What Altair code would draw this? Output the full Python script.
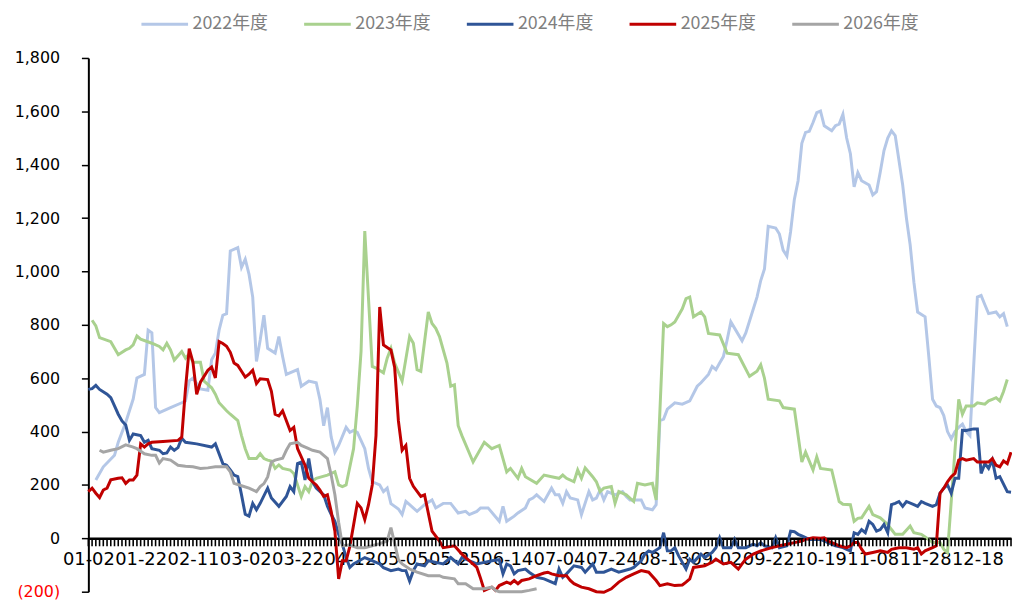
import altair as alt
import pandas as pd

# ---- category axis: trading-day index, labelled every 14 days ----
N_DAYS = 248
LABEL_STEP = 14
tick_labels = ["01-02", "01-22", "02-11", "03-02", "03-22", "04-12", "05-05", "05-25",
               "06-14", "07-04", "07-24", "08-13", "09-02", "09-22", "10-19", "11-08",
               "11-28", "12-18"]

series_names = ["2022年度", "2023年度", "2024年度", "2025年度", "2026年度"]
series_colors = ["#B4C7E7", "#A9D18E", "#2F5597", "#C00000", "#A5A5A5"]

# (day index, value)
y2022 = [(2, 219), (4, 268), (7, 311), (8, 360), (10, 434), (12, 522), (13, 601), (15, 614), (16, 780),
         (17, 770), (18, 490), (19, 471), (22, 490), (25, 508), (26, 515), (27, 590), (28, 600), (30, 560),
         (32, 555), (33, 669), (34, 694), (35, 780), (36, 836), (37, 842), (38, 1077), (40, 1089), (41, 1015),
         (42, 1046), (43, 990), (44, 904), (45, 663), (46, 743), (47, 836), (48, 712), (50, 694), (51, 756),
         (52, 681), (53, 614), (56, 632), (57, 570), (59, 589), (61, 583), (62, 520), (63, 422), (64, 490),
         (65, 380), (66, 323), (67, 348), (69, 416), (70, 397), (71, 404), (72, 397), (74, 336), (75, 262),
         (76, 212), (78, 200), (79, 175), (80, 188), (81, 130), (83, 110), (84, 89), (85, 138), (86, 126),
         (88, 101), (90, 126), (92, 144), (93, 114), (95, 131), (97, 131), (99, 95), (101, 101), (102, 89),
         (104, 101), (105, 114), (107, 114), (110, 64), (111, 120), (112, 64), (114, 83), (115, 95), (117, 114),
         (118, 144), (119, 151), (120, 163), (122, 138), (123, 163), (124, 188), (125, 163), (126, 163),
         (127, 131), (128, 175), (129, 151), (131, 144), (132, 89), (134, 175), (135, 144), (136, 151),
         (137, 181), (138, 144), (139, 175), (141, 163), (143, 175), (144, 157), (145, 144), (148, 144),
         (149, 114), (151, 107), (152, 126), (153, 441), (154, 447), (155, 484), (157, 508), (159, 503),
         (161, 515), (163, 570), (164, 583), (166, 614), (167, 644), (168, 632), (169, 657), (170, 681),
         (171, 743), (172, 811), (175, 740), (176, 770), (179, 904), (180, 966), (181, 1009), (182, 1169),
         (184, 1163), (185, 1140), (186, 1080), (187, 1058), (188, 1150), (189, 1270), (190, 1340),
         (191, 1480), (192, 1521), (193, 1525), (194, 1558), (195, 1595), (196, 1601), (197, 1546),
         (199, 1527), (200, 1546), (201, 1552), (202, 1589), (203, 1500), (204, 1441), (205, 1317),
         (206, 1370), (207, 1340), (209, 1324), (210, 1287), (211, 1299), (212, 1373), (213, 1453),
         (214, 1500), (215, 1527), (216, 1509), (218, 1324), (219, 1200), (220, 1100), (221, 960),
         (222, 848), (224, 830), (225, 680), (226, 521), (227, 496), (228, 490), (229, 460), (230, 400),
         (231, 373), (232, 400), (233, 416), (234, 428), (235, 400), (236, 385), (238, 904), (239, 910),
         (240, 875), (241, 842), (243, 848), (244, 830), (245, 842), (246, 793)]

y2023 = [(1, 817), (2, 796), (3, 752), (6, 737), (8, 688), (10, 706), (11, 712), (12, 725), (13, 758),
         (14, 746), (17, 731), (19, 719), (20, 706), (21, 731), (22, 706), (23, 668), (25, 700), (26, 675),
         (27, 691), (28, 660), (30, 660), (31, 589), (33, 564), (34, 540), (35, 508), (37, 478), (38, 465),
         (40, 441), (41, 385), (42, 336), (43, 299), (45, 299), (46, 317), (47, 299), (48, 293), (49, 290),
         (50, 262), (51, 275), (52, 262), (54, 256), (55, 243), (56, 200), (57, 157), (58, 194), (59, 175),
         (60, 215), (61, 225), (64, 237), (66, 249), (67, 200), (68, 194), (69, 200), (71, 336), (72, 496),
         (73, 700), (74, 1151), (76, 644), (77, 638), (79, 620), (80, 675), (81, 712), (82, 657), (84, 589),
         (86, 756), (87, 731), (88, 632), (89, 626), (91, 848), (92, 805), (93, 787), (94, 756), (96, 657),
         (97, 570), (98, 575), (99, 422), (100, 385), (103, 286), (106, 360), (108, 336), (110, 348),
         (112, 249), (113, 262), (115, 225), (116, 262), (117, 231), (120, 206), (122, 237), (124, 231),
         (126, 225), (127, 237), (128, 225), (130, 212), (131, 256), (132, 225), (133, 264), (135, 231),
         (136, 212), (137, 175), (138, 188), (140, 194), (141, 131), (142, 175), (144, 163), (146, 138),
         (147, 206), (149, 200), (151, 206), (152, 144), (154, 805), (155, 793), (156, 800), (157, 811),
         (159, 860), (160, 898), (161, 904), (162, 830), (164, 848), (165, 830), (166, 768), (169, 762),
         (171, 694), (174, 688), (177, 607), (179, 626), (180, 650), (181, 600), (182, 521), (185, 515),
         (186, 490), (189, 484), (191, 286), (192, 323), (194, 256), (195, 305), (196, 262), (199, 256),
         (201, 138), (202, 128), (204, 126), (205, 64), (206, 75), (207, 77), (209, 120), (210, 89),
         (212, 77), (214, 52), (215, 33), (216, 15), (218, 15), (220, 46), (221, 21), (223, 15), (225, -4),
         (226, -16), (228, -16), (229, -41), (230, -53), (233, 521), (234, 465), (235, 496), (237, 496),
         (238, 508), (240, 503), (241, 515), (242, 521), (243, 527), (244, 515), (245, 550), (246, 595)]

y2024 = [(0, 558), (1, 561), (2, 573), (3, 558), (5, 540), (6, 527), (7, 496), (8, 465), (9, 440),
         (10, 425), (11, 367), (12, 391), (14, 385), (15, 360), (16, 367), (17, 336), (19, 330), (20, 317),
         (21, 320), (22, 342), (23, 330), (24, 340), (25, 375), (26, 360), (29, 354), (33, 342), (34, 354),
         (36, 280), (37, 274), (38, 256), (39, 237), (40, 231), (41, 163), (42, 90), (43, 83), (44, 131),
         (45, 107), (46, 131), (48, 188), (49, 151), (51, 120), (53, 157), (54, 194), (55, 175), (56, 280),
         (57, 286), (58, 219), (59, 299), (60, 212), (61, 188), (63, 163), (64, 120), (65, 90), (66, 64),
         (67, 15), (68, -22), (69, -72), (70, -109), (71, -96), (74, -72), (75, -78), (78, -96), (79, -110),
         (81, -121), (83, -115), (84, -121), (85, -121), (86, -160), (87, -121), (88, -96), (90, -103),
         (91, -84), (93, -90), (95, -96), (97, -72), (99, -96), (100, -72), (102, -84), (104, -96),
         (106, -90), (108, -84), (110, -80), (111, -133), (112, -96), (113, -103), (114, -133), (115, -121),
         (117, -115), (118, -127), (120, -146), (122, -152), (125, -170), (126, -115), (127, -146),
         (128, -133), (130, -103), (132, -109), (133, -127), (135, -96), (136, -127), (138, -127),
         (140, -115), (142, -127), (145, -115), (146, -109), (148, -84), (149, -59), (150, -47), (151, -53),
         (153, -35), (154, 21), (155, -47), (156, -47), (157, -35), (158, -65), (160, -115), (161, -78),
         (162, -90), (164, -59), (165, -72), (167, -53), (168, -35), (169, 2), (170, -35), (172, -35),
         (173, -4), (174, -35), (176, -35), (178, -22), (179, -28), (180, -16), (181, -28), (183, -35),
         (184, 2), (185, -35), (187, -28), (188, 27), (189, 25), (190, 15), (191, 9), (193, -4), (196, -4),
         (198, -16), (200, -28), (202, -35), (203, -41), (204, -47), (205, 21), (206, 15), (207, 33),
         (208, 21), (209, 64), (210, 52), (211, 27), (212, 33), (213, 52), (214, 21), (215, 126), (216, 131),
         (217, 138), (218, 120), (219, 138), (221, 126), (222, 120), (223, 138), (224, 131), (226, 120),
         (227, 126), (228, 169), (229, 188), (230, 200), (231, 169), (232, 225), (233, 225), (234, 405),
         (235, 404), (237, 410), (238, 410), (239, 243), (240, 280), (241, 262), (242, 293), (243, 225),
         (244, 231), (246, 175), (247, 173)]

y2025 = [(0, 175), (1, 188), (2, 169), (3, 153), (4, 181), (5, 188), (6, 219), (8, 225), (9, 227),
         (10, 206), (11, 219), (12, 219), (13, 237), (14, 354), (15, 342), (16, 354), (17, 360), (20, 363),
         (24, 367), (25, 379), (26, 560), (27, 711), (28, 660), (29, 540), (30, 585), (32, 630), (33, 642),
         (34, 601), (35, 737), (36, 730), (37, 720), (38, 697), (39, 657), (40, 648), (41, 626), (42, 604),
         (43, 615), (44, 630), (45, 580), (46, 598), (48, 595), (49, 551), (50, 465), (51, 459), (52, 478),
         (54, 404), (55, 416), (56, 336), (57, 305), (58, 274), (59, 225), (60, 212), (61, 200), (62, 181),
         (63, 157), (64, 163), (65, 101), (66, 27), (67, -152), (68, -84), (69, -84), (70, -30), (71, 50),
         (72, 131), (73, 114), (74, 70), (75, 126), (76, 200), (77, 385), (78, 867), (79, 725), (80, 715),
         (81, 706), (82, 640), (83, 440), (84, 330), (85, 348), (86, 225), (87, 195), (89, 157), (90, 163),
         (92, 27), (94, -10), (95, -35), (98, -28), (100, -59), (102, -84), (104, -109), (105, -150),
         (106, -195), (108, -183), (109, -195), (110, -177), (112, -164), (113, -170), (114, -158),
         (115, -170), (116, -158), (118, -152), (120, -140), (122, -130), (123, -127), (124, -133),
         (126, -140), (128, -140), (129, -158), (130, -170), (132, -183), (134, -189), (136, -200),
         (138, -202), (140, -189), (142, -164), (144, -146), (146, -133), (148, -121), (150, -127),
         (152, -158), (153, -177), (155, -170), (157, -177), (159, -175), (160, -164), (161, -152),
         (162, -109), (165, -103), (167, -90), (168, -78), (170, -96), (172, -90), (174, -115), (175, -96),
         (176, -78), (178, -59), (180, -47), (183, -35), (185, -28), (187, -22), (189, -16), (191, -10),
         (192, -4), (194, 2), (196, 0), (197, 2), (198, -10), (200, -22), (201, -28), (203, -35), (204, -28),
         (205, -16), (206, -16), (207, -41), (208, -59), (210, -53), (212, -47), (214, -53), (215, -41),
         (217, -35), (219, -35), (221, -41), (222, -35), (223, -59), (224, -47), (226, -35), (227, -28),
         (228, 169), (229, 188), (230, 212), (231, 231), (232, 243), (233, 293), (234, 299), (235, 293),
         (237, 299), (238, 286), (239, 286), (241, 286), (242, 299), (243, 274), (244, 268), (245, 290),
         (246, 280), (247, 323)]

y2026 = [(3, 330), (4, 323), (6, 330), (8, 336), (10, 350), (12, 342), (13, 336), (15, 317), (17, 311),
         (18, 311), (19, 282), (20, 299), (22, 293), (24, 274), (26, 270), (28, 268), (30, 262), (32, 264),
         (34, 268), (37, 268), (38, 249), (39, 206), (41, 197), (43, 188), (45, 175), (46, 194), (47, 205),
         (48, 230), (49, 286), (50, 293), (52, 300), (53, 330), (54, 354), (56, 360), (57, 348), (59, 336),
         (60, 330), (62, 323), (63, 311), (64, 299), (65, 237), (66, 163), (67, 60), (68, -28), (70, -25),
         (72, -35), (74, -35), (76, -28), (78, -20), (80, -10), (81, 40), (82, -20), (83, -80), (84, -96),
         (86, -115), (87, -121), (88, -127), (91, -140), (94, -140), (95, -146), (98, -152), (99, -170),
         (101, -170), (103, -189), (106, -189), (108, -183), (109, -195), (110, -200), (113, -200),
         (116, -200), (118, -195), (120, -189)]

all_series = [y2022, y2023, y2024, y2025, y2026]

rows = []
for name, pts in zip(series_names, all_series):
    for d, v in pts:
        rows.append({"series": name, "day": d, "value": v})
df = pd.DataFrame(rows)
days_df = pd.DataFrame({"day": list(range(N_DAYS)), "base": [0] * N_DAYS})

W, H = 930, 538
Y_MIN, Y_MAX = -200, 1800
zero_offset = -H * (0 - Y_MIN) / (Y_MAX - Y_MIN)

labels_js = "[" + ",".join("'%s'" % t for t in tick_labels) + "]"
x_label_expr = (f"datum.value % {LABEL_STEP} == 0 ? "
                f"{labels_js}[datum.value / {LABEL_STEP}] : ''")

x_scale = alt.Scale(domain=[0, N_DAYS - 1], nice=False, zero=False)
y_scale = alt.Scale(domain=[Y_MIN, Y_MAX], nice=False, zero=False)

x_enc = alt.X(
    "day:Q",
    scale=x_scale,
    axis=alt.Axis(
        title=None, grid=False, values=list(range(0, N_DAYS, LABEL_STEP)), labelExpr=x_label_expr,
        offset=zero_offset, domain=True, domainColor="#000000", domainWidth=2.5,
        ticks=False,
        labelFont="DejaVu Sans", labelFontSize=18, labelColor="#000000",
        labelPadding=12, labelOverlap=False, labelFlush=False, labelBound=False,
    ),
)

y_enc = alt.Y(
    "value:Q",
    scale=y_scale,
    axis=alt.Axis(
        title=None, grid=False, values=list(range(Y_MIN, Y_MAX + 1, 200)),
        labelExpr="datum.value < 0 ? '(' + format(-datum.value, ',') + ')' : format(datum.value, ',')",
        labelColor={"condition": {"test": "datum.value < 0", "value": "#FF0000"}, "value": "#000000"},
        labelFont="DejaVu Sans", labelFontSize=16, labelPadding=22,
        domainColor="#000000", domainWidth=2, tickColor="#000000", tickSize=7, tickWidth=1.5,
    ),
)

color_enc = alt.Color(
    "series:N",
    scale=alt.Scale(domain=series_names, range=series_colors),
    legend=alt.Legend(
        title=None, orient="none", legendX=52, legendY=-59, direction="horizontal", columns=5,
        symbolType="stroke", symbolSize=2209, symbolStrokeWidth=3,
        labelFont="Noto Sans CJK SC", labelFontSize=18, labelColor="#7F7F7F",
        columnPadding=30, labelOffset=3, padding=0,
    ),
)

# dense category tick marks hanging just below the zero line (drawn above the series)
tick_layer = (
    alt.Chart(days_df)
    .mark_rule(color="#000000", strokeWidth=1.6, opacity=1, y2Offset=8)
    .encode(
        x=alt.X("day:Q", scale=x_scale),
        y=alt.Y("base:Q", scale=y_scale),
        y2=alt.Y2("base:Q"),
    )
)

layers = []
for name in series_names:
    layers.append(
        alt.Chart(df)
        .transform_filter(alt.datum.series == name)
        .mark_line(strokeWidth=3)
        .encode(x=x_enc, y=y_enc, color=color_enc)
    )
layers.append(tick_layer)

chart = (
    alt.layer(*layers)
    .properties(
        width=W, height=H,
        autosize=alt.AutoSizeParams(type="none"),
        padding={"left": 81, "top": 48, "right": 1, "bottom": 6},
        background="#FFFFFF",
    )
    .configure_view(stroke=None)
)

chart.save("out.html", embed_options={"renderer": "svg", "actions": False})
